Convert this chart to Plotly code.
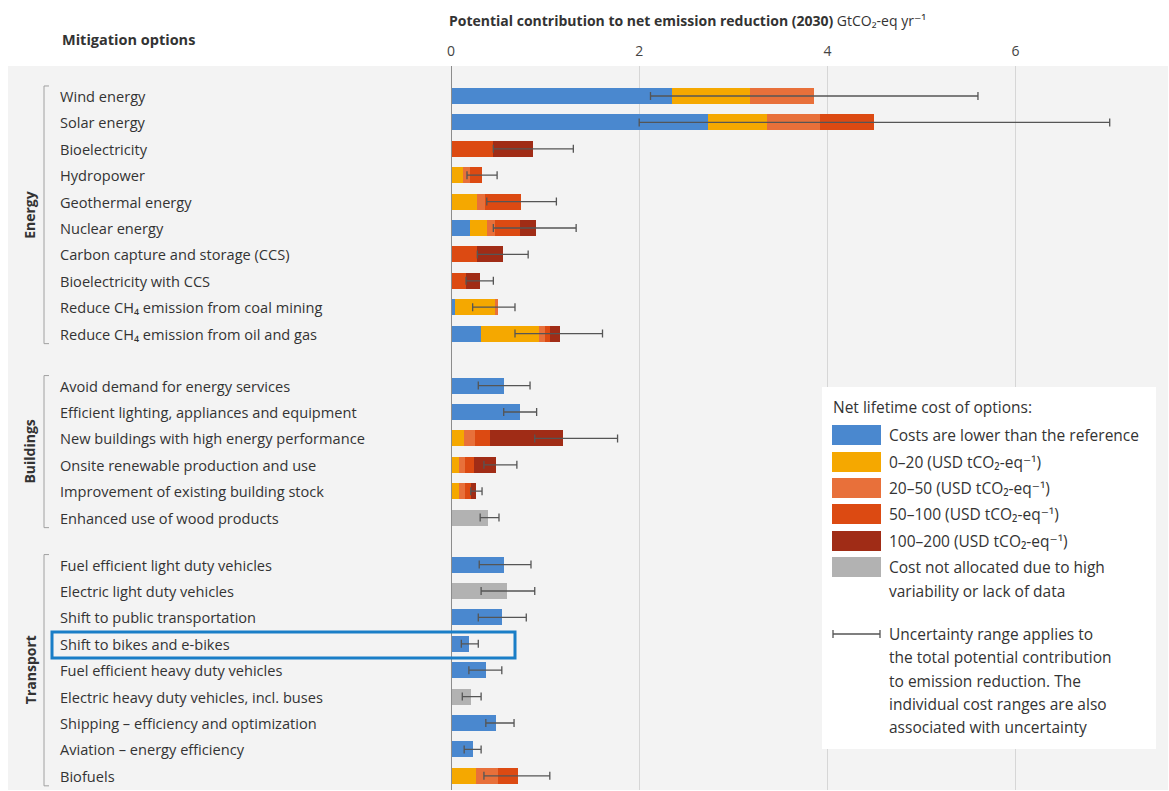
import plotly.graph_objects as go

# ---------------- data ----------------
energy = ["Wind energy", "Solar energy", "Bioelectricity", "Hydropower", "Geothermal energy",
          "Nuclear energy", "Carbon capture and storage (CCS)", "Bioelectricity with CCS",
          "Reduce CH₄ emission from coal mining", "Reduce CH₄ emission from oil and gas"]
buildings = ["Avoid demand for energy services", "Efficient lighting, appliances and equipment",
             "New buildings with high energy performance", "Onsite renewable production and use",
             "Improvement of existing building stock", "Enhanced use of wood products"]
transport = ["Fuel efficient light duty vehicles", "Electric light duty vehicles", "Shift to public transportation",
             "Shift to bikes and e-bikes", "Fuel efficient heavy duty vehicles",
             "Electric heavy duty vehicles, incl. buses", "Shipping – efficiency and optimization",
             "Aviation – energy efficiency", "Biofuels"]
group_names = ["Energy", "Buildings", "Transport"]

# segment contributions (GtCO2-eq/yr) per cost class, order: energy, buildings, transport
cost_lower = [2.35, 2.73, 0, 0, 0, 0.20, 0, 0, 0.04, 0.32,
              0.56, 0.73, 0, 0, 0, 0,
              0.56, 0, 0.54, 0.19, 0.37, 0, 0.48, 0.23, 0]
cost_0_20 = [0.83, 0.63, 0, 0.13, 0.28, 0.18, 0, 0, 0.43, 0.61,
             0, 0, 0.14, 0.08, 0.08, 0,
             0, 0, 0, 0, 0, 0, 0, 0, 0.27]
cost_20_50 = [0.68, 0.56, 0, 0.07, 0.08, 0.09, 0, 0, 0.03, 0.07,
              0, 0, 0.12, 0.07, 0.07, 0,
              0, 0, 0, 0, 0, 0, 0, 0, 0.23]
cost_50_100 = [0, 0.58, 0.45, 0.13, 0.38, 0.26, 0.28, 0.16, 0, 0.05,
               0, 0, 0.15, 0.09, 0.06, 0,
               0, 0, 0, 0, 0, 0, 0, 0, 0.21]
cost_100_200 = [0, 0, 0.42, 0, 0, 0.17, 0.27, 0.15, 0, 0.11,
                0, 0, 0.78, 0.24, 0.06, 0,
                0, 0, 0, 0, 0, 0, 0, 0, 0]
cost_na = [0, 0, 0, 0, 0, 0, 0, 0, 0, 0,
           0, 0, 0, 0, 0, 0.39,
           0, 0.60, 0, 0, 0, 0.21, 0, 0, 0]
unc_low = [2.12, 2.00, 0.45, 0.17, 0.38, 0.45, 0.28, 0.16, 0.23, 0.68,
           0.29, 0.56, 0.89, 0.35, 0.21, 0.31,
           0.30, 0.32, 0.29, 0.11, 0.19, 0.12, 0.37, 0.14, 0.35]
unc_high = [5.60, 7.00, 1.30, 0.49, 1.12, 1.33, 0.82, 0.45, 0.68, 1.61,
            0.84, 0.91, 1.77, 0.70, 0.33, 0.51,
            0.85, 0.89, 0.80, 0.29, 0.54, 0.32, 0.67, 0.32, 1.05]

class_names = ["Costs are lower than the reference", "0–20 (USD tCO₂-eq⁻¹)",
               "20–50 (USD tCO₂-eq⁻¹)", "50–100 (USD tCO₂-eq⁻¹)",
               "100–200 (USD tCO₂-eq⁻¹)", "Cost not allocated due to high"]
x_ticks = [0, 2, 4, 6]

# ---------------- styles ----------------
colors = ["#4a88cf", "#f5a800", "#e8703a", "#dc4a12", "#a02c16", "#b2b2b2"]
FONT = "Open Sans, DejaVu Sans"
TXT = "#333333"
LBL = 14.6
LEG = 15.5

W, H = 1169, 791
L, R, T, B = 451, 9, 66, 1
PW, PH = W - L - R, H - T - B
PX_PER_UNIT = 94.1
ROW = 26.4
FIRST_ROW_PX = 96

def px(xp):
    return (xp - L) / PW

def py(yp):
    return (H - B - yp) / PH

def row_py(p):
    return py(FIRST_ROW_PX + p * ROW)

# row positions (in row units) with gaps between groups
groups = [energy, buildings, transport]
gaps = [0, 0.97, 0.78]
options, pos, gpos = [], [], []
cur = 0.0
for g, names in enumerate(groups):
    cur += gaps[g]
    start = cur
    for n in names:
        options.append(n)
        pos.append(cur)
        cur += 1
    gpos.append((start, cur - 1))
y_top = -(FIRST_ROW_PX - T) / ROW
y_bot = y_top + PH / ROW

fig = go.Figure()
series = [cost_lower, cost_0_20, cost_20_50, cost_50_100, cost_100_200, cost_na]
for vals, col, nm in zip(series, colors, class_names):
    fig.add_trace(go.Bar(x=vals, y=pos, orientation="h", marker=dict(color=col, line=dict(width=0)),
                         width=0.6, name=nm, showlegend=False, hoverinfo="x"))

mid = [(a + b) / 2 for a, b in zip(unc_low, unc_high)]
half = [(b - a) / 2 for a, b in zip(unc_low, unc_high)]
fig.add_trace(go.Scatter(x=mid, y=pos, mode="markers", marker=dict(size=1, opacity=0),
                         error_x=dict(type="data", array=half, symmetric=True, color="#555555",
                                      thickness=1.3, width=4),
                         showlegend=False, hoverinfo="skip"))

shapes = []
annotations = []
# panel background
shapes.append(dict(type="rect", xref="paper", yref="paper", x0=px(8), x1=px(1168), y0=py(790), y1=py(66),
                   fillcolor="#f3f3f3", line=dict(width=0), layer="below"))
# zero axis line
shapes.append(dict(type="line", xref="x", yref="paper", x0=0, x1=0, y0=0, y1=1,
                   line=dict(color="#8c8c8c", width=2)))

# option labels
for n, p in zip(options, pos):
    annotations.append(dict(x=px(58), y=row_py(p), xref="paper", yref="paper", text=n, showarrow=False,
                            xanchor="left", yanchor="middle", font=dict(family=FONT, size=LBL, color=TXT)))
# group labels and brackets
for name, (s, e) in zip(group_names, gpos):
    annotations.append(dict(x=px(30), y=row_py((s + e) / 2), xref="paper", yref="paper", text=name,
                            showarrow=False, textangle=-90, xanchor="center", yanchor="middle",
                            font=dict(family=FONT, size=14, color=TXT, weight="bold")))
    y0, y1 = s - 0.38, e + 0.38
    shapes.append(dict(type="line", xref="paper", yref="y", x0=px(44), x1=px(44), y0=y0, y1=y1,
                       line=dict(color="#a0a0a0", width=1)))
    for yy in (y0, y1):
        shapes.append(dict(type="line", xref="paper", yref="y", x0=px(44), x1=px(49), y0=yy, y1=yy,
                           line=dict(color="#a0a0a0", width=1)))

# headers
annotations.append(dict(x=px(60), y=py(40), xref="paper", yref="paper", text="<b>Mitigation options</b>",
                        showarrow=False, xanchor="left", yanchor="middle",
                        font=dict(family=FONT, size=14.5, color=TXT)))
annotations.append(dict(x=px(447), y=py(20), xref="paper", yref="paper",
                        text="<b>Potential contribution to net emission reduction (2030)</b> GtCO₂-eq yr⁻¹",
                        showarrow=False, xanchor="left", yanchor="middle",
                        font=dict(family=FONT, size=14, color=TXT)))

# highlight box
shapes.append(dict(type="rect", xref="paper", yref="paper", x0=px(52), x1=px(515), y0=py(658), y1=py(632),
                   line=dict(color="#1a7ec7", width=3), fillcolor="rgba(0,0,0,0)"))

# legend box
shapes.append(dict(type="rect", xref="paper", yref="paper", x0=px(822), x1=px(1156), y0=py(749), y1=py(387),
                   fillcolor="white", line=dict(width=0)))
annotations.append(dict(x=px(831), y=py(407), xref="paper", yref="paper", text="Net lifetime cost of options:",
                        showarrow=False, xanchor="left", yanchor="middle",
                        font=dict(family=FONT, size=LEG, color=TXT)))
sw_y = [435, 462, 488, 514, 541, 567]
for yy, col, nm in zip(sw_y, colors, class_names):
    shapes.append(dict(type="rect", xref="paper", yref="paper", x0=px(832), x1=px(881), y0=py(yy + 10),
                       y1=py(yy - 10), fillcolor=col, line=dict(width=0)))
    annotations.append(dict(x=px(887), y=py(yy), xref="paper", yref="paper", text=nm, showarrow=False,
                            xanchor="left", yanchor="middle", font=dict(family=FONT, size=LEG, color=TXT)))
annotations.append(dict(x=px(887), y=py(591), xref="paper", yref="paper", text="variability or lack of data",
                        showarrow=False, xanchor="left", yanchor="middle",
                        font=dict(family=FONT, size=LEG, color=TXT)))
# uncertainty legend
shapes.append(dict(type="line", xref="paper", yref="paper", x0=px(833), x1=px(880), y0=py(634), y1=py(634),
                   line=dict(color="#555555", width=1.3)))
for xx in (833, 880):
    shapes.append(dict(type="line", xref="paper", yref="paper", x0=px(xx), x1=px(xx), y0=py(630), y1=py(638),
                       line=dict(color="#555555", width=1.3)))
unc_lines = ["Uncertainty range applies to", "the total potential contribution",
             "to emission reduction. The", "individual cost ranges are also", "associated with uncertainty"]
for i, t in enumerate(unc_lines):
    annotations.append(dict(x=px(887), y=py(634 + i * 23.3), xref="paper", yref="paper", text=t,
                            showarrow=False, xanchor="left", yanchor="middle",
                            font=dict(family=FONT, size=LEG, color=TXT)))

fig.update_layout(
    width=W, height=H, margin=dict(l=L, r=R, t=T, b=B),
    font=dict(family=FONT, size=14, color=TXT),
    paper_bgcolor="white", plot_bgcolor="rgba(0,0,0,0)",
    barmode="stack", bargap=0,
    xaxis=dict(range=[0, PW / PX_PER_UNIT], side="top", tickvals=x_ticks, ticks="",
               showgrid=True, gridcolor="#d6d6d6", gridwidth=1, zeroline=False, showline=False,
               tickfont=dict(family=FONT, size=14, color="#444444"), ticklabelstandoff=6),
    yaxis=dict(range=[y_bot, y_top], showticklabels=False, showgrid=False, zeroline=False, ticks=""),
    shapes=shapes, annotations=annotations, showlegend=False,
)

fig.write_html("out.html")
